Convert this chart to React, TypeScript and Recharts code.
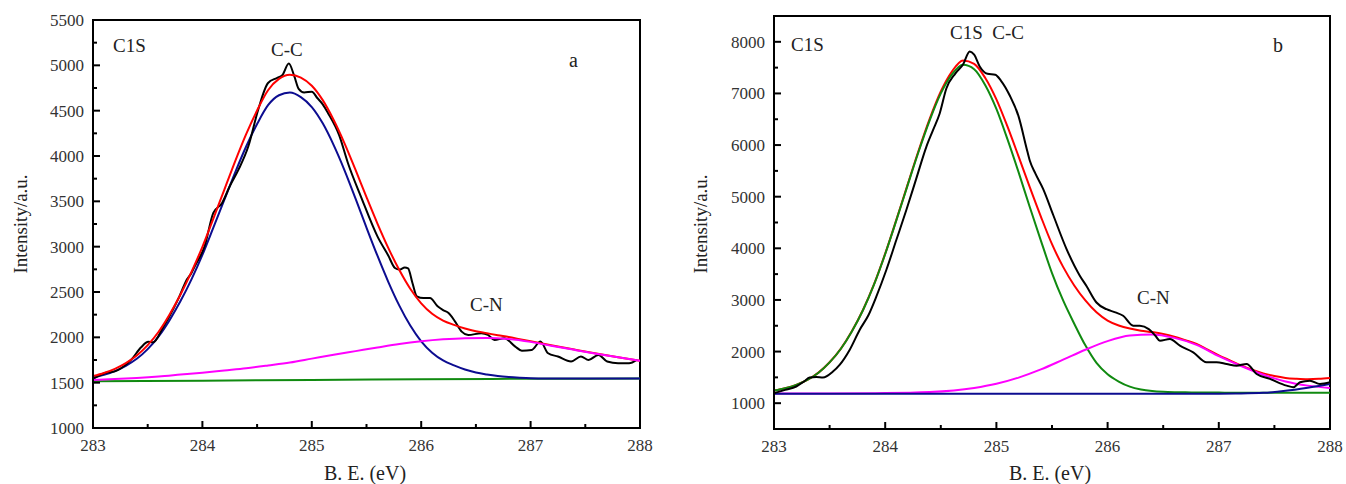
import { LineChart, Line, XAxis, YAxis, ReferenceArea } from 'recharts'

// ---- panel a ----
const A_FIT_E = [
  283.0, 283.1, 283.2, 283.3, 283.4, 283.5, 283.6, 283.7, 283.8, 283.9,
  284.0, 284.1, 284.2, 284.3, 284.4, 284.5, 284.6, 284.7, 284.8, 284.9,
  285.0, 285.1, 285.2, 285.3, 285.4, 285.5, 285.6, 285.7, 285.8, 285.9,
  286.0, 286.1, 286.2, 286.3, 286.4, 286.5, 286.6, 286.7, 286.8, 286.9,
  287.0, 287.2, 287.4, 287.6, 287.8, 288.0,
]
const A_ENVELOPE = [
  1573, 1607, 1653, 1716, 1799, 1914, 2062, 2252, 2472, 2722,
  2998, 3310, 3627, 3944, 4241, 4502, 4725, 4850, 4895, 4865,
  4775, 4616, 4397, 4137, 3846, 3546, 3255, 2984, 2742, 2536,
  2375, 2260, 2185, 2137, 2097, 2066, 2045, 2023, 2003, 1980,
  1957, 1909, 1865, 1822, 1781, 1742,
]
const A_CC = [
  1558, 1587, 1628, 1686, 1763, 1870, 2010, 2190, 2400, 2640,
  2910, 3210, 3515, 3820, 4105, 4352, 4560, 4670, 4700, 4650,
  4540, 4360, 4120, 3840, 3530, 3210, 2900, 2610, 2350, 2130,
  1956, 1830, 1745, 1690, 1645, 1612, 1590, 1573, 1562, 1555,
  1550, 1547, 1546, 1546, 1545, 1545,
]
const A_CN_E = [
  283.0, 283.2, 283.4, 283.6, 283.8, 284.0, 284.2, 284.4, 284.6, 284.8,
  285.0, 285.2, 285.4, 285.6, 285.8, 286.0, 286.2, 286.4, 286.6, 286.8,
  287.0, 287.2, 287.4, 287.6, 287.8, 288.0,
]
const A_CN = [
  1530, 1540, 1552, 1568, 1589, 1610, 1635, 1660, 1690, 1722,
  1765, 1808, 1848, 1888, 1926, 1956, 1978, 1991, 1994, 1982,
  1950, 1905, 1862, 1820, 1780, 1742,
]
const A_BASE_E = [283, 284, 285, 286, 287, 288]
const A_BASE = [1515, 1522, 1530, 1537, 1543, 1545]
const A_RAW_E = [
  283.0, 283.05, 283.11, 283.2, 283.26, 283.35, 283.44, 283.505, 283.55, 283.64,
  283.73, 283.79, 283.85, 283.9, 283.93, 284.02, 284.1, 284.18, 284.25, 284.33,
  284.42, 284.51, 284.6, 284.68, 284.73, 284.79, 284.84, 284.88, 284.93, 285.0,
  285.05, 285.1, 285.15, 285.25, 285.33, 285.45, 285.6, 285.7, 285.76, 285.8,
  285.85, 285.88, 285.92, 285.96, 286.02, 286.08, 286.15, 286.2, 286.25, 286.31,
  286.37, 286.43, 286.55, 286.61, 286.67, 286.76, 286.86, 286.92, 287.01, 287.09,
  287.16, 287.25, 287.37, 287.46, 287.53, 287.62, 287.7, 287.8, 287.9, 287.97,
]
const A_RAW = [
  1540, 1575, 1607, 1625, 1662, 1754, 1890, 1950, 1945, 2110,
  2305, 2452, 2620, 2710, 2784, 3004, 3372, 3482, 3666, 3849,
  4107, 4511, 4805, 4860, 4890, 5019, 4880, 4740, 4700, 4710,
  4640, 4570, 4470, 4230, 3923, 3550, 3114, 2900, 2765, 2747,
  2770, 2760, 2600, 2453, 2434, 2434, 2342, 2300, 2269, 2174,
  2063, 2026, 2045, 2026, 1971, 1990, 1898, 1853, 1861, 1953,
  1824, 1788, 1733, 1788, 1751, 1806, 1733, 1714, 1714, 1751,
]

// ---- panel b ----
const B_FIT_E = [
  283.0, 283.1, 283.2, 283.3, 283.4, 283.5, 283.6, 283.7, 283.8, 283.9,
  284.0, 284.1, 284.2, 284.3, 284.4, 284.5, 284.6, 284.7, 284.8, 284.9,
  285.0, 285.1, 285.2, 285.3, 285.4, 285.5, 285.6, 285.7, 285.8, 285.9,
  286.0, 286.1, 286.2, 286.3, 286.4, 286.5, 286.6, 286.7, 286.8, 286.9,
  287.0, 287.1, 287.2, 287.3, 287.4, 287.5, 287.6, 287.7, 287.8, 287.9,
  288.0,
]
const B_ENVELOPE = [
  1245, 1290, 1355, 1450, 1592, 1792, 2053, 2394, 2805, 3306,
  3897, 4550, 5224, 5890, 6507, 7038, 7425, 7640, 7574, 7300,
  6885, 6355, 5776, 5185, 4614, 4080, 3640, 3280, 2990, 2760,
  2600, 2505, 2445, 2405, 2377, 2340, 2288, 2220, 2148, 2036,
  1925, 1829, 1733, 1647, 1577, 1526, 1490, 1474, 1466, 1472,
  1488,
]
const B_CC = [
  1245, 1290, 1355, 1450, 1590, 1790, 2050, 2390, 2800, 3300,
  3890, 4540, 5210, 5870, 6480, 7000, 7370, 7555, 7470, 7160,
  6700, 6110, 5470, 4800, 4150, 3520, 2990, 2540, 2120, 1780,
  1560, 1420, 1320, 1265, 1235, 1220, 1213, 1210, 1208, 1206,
  1205, 1204, 1203, 1202, 1202, 1201, 1201, 1200, 1200, 1200,
  1200,
]
const B_CN_E = [
  283.0, 283.5, 284.0, 284.4, 284.8, 285.0, 285.2, 285.4, 285.6, 285.8,
  286.0, 286.2, 286.4, 286.6, 286.8, 287.0, 287.2, 287.4, 287.6, 287.8,
  288.0,
]
const B_CN = [
  1190, 1190, 1195, 1215, 1294, 1375, 1496, 1654, 1843, 2036,
  2203, 2310, 2332, 2265, 2130, 1910, 1720, 1550, 1420, 1340,
  1295,
]
const B_BASE_E = [283, 287, 287.2, 287.4, 287.6, 287.8, 288]
const B_BASE = [1185, 1185, 1188, 1200, 1240, 1300, 1370]
const B_RAW_E = [
  283.0, 283.1, 283.2, 283.27, 283.32, 283.38, 283.44, 283.53, 283.59, 283.68,
  283.77, 283.85, 283.92, 284.01, 284.1, 284.19, 284.28, 284.37, 284.43, 284.49,
  284.55, 284.63, 284.7, 284.76, 284.8, 284.85, 284.92, 284.99, 285.04, 285.12,
  285.2, 285.27, 285.3, 285.35, 285.42, 285.51, 285.63, 285.75, 285.81, 285.9,
  285.99, 286.07, 286.14, 286.23, 286.29, 286.37, 286.43, 286.47, 286.56, 286.65,
  286.77, 286.89, 286.98, 287.07, 287.16, 287.25, 287.34, 287.46, 287.61, 287.67,
  287.73, 287.82, 287.91, 288.0,
]
const B_RAW = [
  1194, 1258, 1323, 1420, 1497, 1505, 1497, 1613, 1742, 2032,
  2419, 2709, 3064, 3580, 4160, 4741, 5354, 5966, 6289, 6611,
  7095, 7385, 7560, 7812, 7750, 7522, 7380, 7362, 7250, 6960,
  6550, 5950, 5700, 5450, 5150, 4650, 3990, 3470, 3270, 2950,
  2820, 2760, 2693, 2500, 2499, 2435, 2306, 2210, 2242, 2113,
  1985, 1792, 1792, 1760, 1727, 1760, 1566, 1470, 1340, 1309,
  1405, 1437, 1373, 1405,
]

const X_TICKS = [283, 283.5, 284, 284.5, 285, 285.5, 286, 286.5, 287, 287.5, 288]
const A_Y_TICKS = [1000, 1250, 1500, 1750, 2000, 2250, 2500, 2750, 3000, 3250, 3500, 3750, 4000, 4250, 4500, 4750, 5000, 5250, 5500]
const B_Y_TICKS = [500, 1000, 1500, 2000, 2500, 3000, 3500, 4000, 4500, 5000, 5500, 6000, 6500, 7000, 7500, 8000, 8500]

const FONT = 'Liberation Serif, Times New Roman, DejaVu Serif, serif'
const TICK_COLOR = '#333'

const pts = (xs: number[], ys: number[]) => xs.map((x, i) => ({ x, y: ys[i] }))

const makeYTick = (step: number, lo: number, hi: number) => (p: any) => {
  const v = p.payload.value
  const major = v % step === 0
  const labelled = major && v >= lo && v <= hi
  return (
    <g>
      <line x1={p.x} x2={p.x + (major ? 7 : 4)} y1={p.y} y2={p.y} stroke="#000" strokeWidth={2} />
      {labelled && (
        <text x={p.x - 9} y={p.y} dy="0.35em" textAnchor="end" fontFamily={FONT} fontSize={17} fill={TICK_COLOR}>
          {v}
        </text>
      )}
    </g>
  )
}

const XTick = (p: any) => {
  const v = p.payload.value
  const major = Number.isInteger(v)
  return (
    <g>
      <line x1={p.x} x2={p.x} y1={p.y} y2={p.y - (major ? 7 : 4)} stroke="#000" strokeWidth={2} />
      {major && (
        <text x={p.x} y={p.y + 23} textAnchor="middle" fontFamily={FONT} fontSize={17} fill={TICK_COLOR}>
          {v}
        </text>
      )}
    </g>
  )
}

const Note = ({ x, y, size = 19, children }: { x: number; y: number; size?: number; children: string }) => (
  <div style={{ position: 'absolute', left: x, top: y, fontFamily: FONT, fontSize: size, color: '#222', lineHeight: 1, whiteSpace: 'pre' }}>
    {children}
  </div>
)

const YTitle = ({ cx, cy }: { cx: number; cy: number }) => (
  <div
    style={{
      position: 'absolute', left: cx, top: cy, transform: 'translate(-50%, -50%) rotate(-90deg)',
      fontFamily: FONT, fontSize: 19, color: '#222', whiteSpace: 'nowrap', lineHeight: 1,
    }}
  >
    Intensity/a.u.
  </div>
)

const XTitle = ({ cx, top }: { cx: number; top: number }) => (
  <div
    style={{
      position: 'absolute', left: cx, top, transform: 'translateX(-50%)',
      fontFamily: FONT, fontSize: 20, color: '#222', whiteSpace: 'nowrap', lineHeight: 1,
    }}
  >
    B. E. (eV)
  </div>
)

const axisLine = { stroke: '#000', strokeWidth: 2 }
const lineProps = { type: 'monotone' as const, dataKey: 'y', strokeWidth: 2, dot: false, isAnimationActive: false }

export default function App() {
  return (
    <div style={{ position: 'absolute', left: 0, top: 0, width: 1346, height: 484, background: '#fff' }}>
      <div style={{ position: 'absolute', left: 0, top: 0 }}>
        <LineChart width={660} height={484} margin={{ top: 20, right: 20, bottom: 26, left: 0 }}>
          <XAxis type="number" dataKey="x" domain={[283, 288]} ticks={X_TICKS} allowDataOverflow height={30}
            axisLine={axisLine} tickLine={false} tickSize={0} tickMargin={0} tick={XTick} interval={0} />
          <YAxis type="number" domain={[1000, 5500]} ticks={A_Y_TICKS} allowDataOverflow width={93}
            axisLine={axisLine} tickLine={false} tickSize={0} tickMargin={0} tick={makeYTick(500, 1000, 5500)} interval={0} />
          <ReferenceArea x1={283} x2={288} y1={1000} y2={5500} fill="none" fillOpacity={0} stroke="#000" strokeWidth={2} />
          <Line {...lineProps} data={pts(A_BASE_E, A_BASE)} stroke="#108a10" />
          <Line {...lineProps} data={pts(A_FIT_E, A_CC)} stroke="#0c0c90" />
          <Line {...lineProps} data={pts(A_RAW_E, A_RAW)} stroke="#000" />
          <Line {...lineProps} data={pts(A_FIT_E, A_ENVELOPE)} stroke="#ff0000" />
          <Line {...lineProps} data={pts(A_CN_E, A_CN)} stroke="#ff00ff" />
        </LineChart>
      </div>
      <div style={{ position: 'absolute', left: 680, top: 0 }}>
        <LineChart width={666} height={484} margin={{ top: 16, right: 16, bottom: 25, left: 0 }}>
          <XAxis type="number" dataKey="x" domain={[283, 288]} ticks={X_TICKS} allowDataOverflow height={30}
            axisLine={axisLine} tickLine={false} tickSize={0} tickMargin={0} tick={XTick} interval={0} />
          <YAxis type="number" domain={[500, 8500]} ticks={B_Y_TICKS} allowDataOverflow width={94}
            axisLine={axisLine} tickLine={false} tickSize={0} tickMargin={0} tick={makeYTick(1000, 1000, 8000)} interval={0} />
          <ReferenceArea x1={283} x2={288} y1={500} y2={8500} fill="none" fillOpacity={0} stroke="#000" strokeWidth={2} />
          <Line {...lineProps} data={pts(B_FIT_E, B_ENVELOPE)} stroke="#ff0000" />
          <Line {...lineProps} data={pts(B_FIT_E, B_CC)} stroke="#108a10" />
          <Line {...lineProps} data={pts(B_CN_E, B_CN)} stroke="#ff00ff" />
          <Line {...lineProps} data={pts(B_BASE_E, B_BASE)} stroke="#0c0c90" />
          <Line {...lineProps} data={pts(B_RAW_E, B_RAW)} stroke="#000" />
        </LineChart>
      </div>

      <Note x={113} y={36}>C1S</Note>
      <Note x={271} y={40}>C-C</Note>
      <Note x={569} y={50} size={20}>a</Note>
      <Note x={470} y={295}>C-N</Note>
      <YTitle cx={20} cy={224} />
      <XTitle cx={365} top={463} />

      <Note x={950} y={23}>{'C1S  C-C'}</Note>
      <Note x={791} y={35}>C1S</Note>
      <Note x={1273} y={35} size={20}>b</Note>
      <Note x={1137} y={288}>C-N</Note>
      <YTitle cx={700} cy={224} />
      <XTitle cx={1050} top={463} />
    </div>
  )
}
